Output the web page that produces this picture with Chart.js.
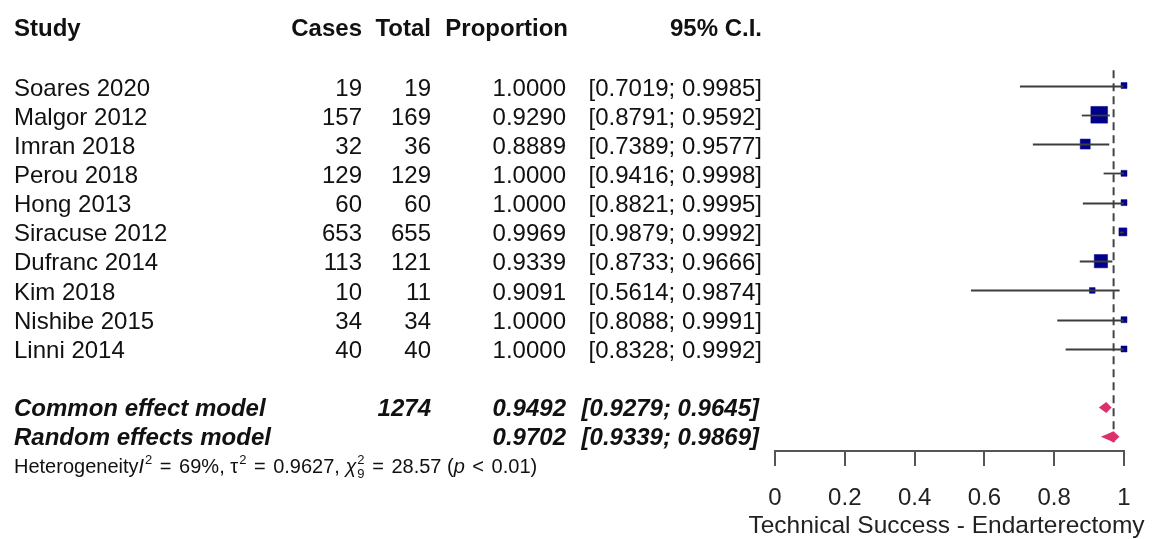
<!DOCTYPE html>
<html>
<head>
<meta charset="utf-8">
<title>Technical Success - Endarterectomy</title>
<script src="https://cdn.jsdelivr.net/npm/chart.js@4.4.1/dist/chart.umd.min.js"></script>
<style>
  html, body { margin: 0; padding: 0; background: #ffffff; }
  canvas { display: block; }
</style>
</head>
<body>
<canvas id="forest" width="1157" height="539"></canvas>
<script>
// ---- study data ----
const studies = ['Soares 2020', 'Malgor 2012', 'Imran 2018', 'Perou 2018', 'Hong 2013',
                 'Siracuse 2012', 'Dufranc 2014', 'Kim 2018', 'Nishibe 2015', 'Linni 2014'];
const cases = [19, 157, 32, 129, 60, 653, 113, 10, 34, 40];
const totals = [19, 169, 36, 129, 60, 655, 121, 11, 34, 40];
const proportions = [1.0000, 0.9290, 0.8889, 1.0000, 1.0000, 0.9969, 0.9339, 0.9091, 1.0000, 1.0000];
const ciLower = [0.7019, 0.8791, 0.7389, 0.9416, 0.8821, 0.9879, 0.8733, 0.5614, 0.8088, 0.8328];
const ciUpper = [0.9985, 0.9592, 0.9577, 0.9998, 0.9995, 0.9992, 0.9666, 0.9874, 0.9991, 0.9992];
const weights = [4.3, 33.6, 12.0, 4.3, 4.3, 7.7, 21.3, 3.9, 4.3, 4.3];   // % weight per study

// ---- pooled estimates ----
const pooledModels = ['Common effect model', 'Random effects model'];
const pooledTotals = [1274, null];
const pooledEstimate = [0.9492, 0.9702];
const pooledLower = [0.9279, 0.9339];
const pooledUpper = [0.9645, 0.9869];

// ---- axis ----
const xTicks = [0, 0.2, 0.4, 0.6, 0.8, 1];
const xTitle = 'Technical Success - Endarterectomy';
const headers = ['Study', 'Cases', 'Total', 'Proportion', '95% C.I.'];

// row indices on the vertical scale
const headerRow = -2;
const pooledRows = [11, 12];
const hetRow = 13;

const FONT = '"Liberation Sans", Arial, Helvetica, sans-serif';
const TEXT = '#111111';
const BOX = '#00008B';
const DIAMOND = '#DC2F6B';
const LINE = '#3c3c3c';

const fmt4 = v => v.toFixed(4);
const fmtCI = (lo, hi) => '[' + fmt4(lo) + '; ' + fmt4(hi) + ']';

// column anchors (right-aligned except the study label)
const col = { study: 14, cases: 362, total: 431, prop: 566, ci: 762 };
// text baseline sits a little below each row centre
const baseOffset = r => 10.5 - 0.2 * r;

function txt(ctx, s, x, y, align, style, size) {
  ctx.font = style + ' ' + (size || 24) + 'px ' + FONT;
  ctx.textAlign = align;
  ctx.textBaseline = 'alphabetic';
  ctx.fillStyle = TEXT;
  ctx.fillText(s, x, y);
}

// study table, pooled rows, heterogeneity line and axis title
const tablePlugin = {
  id: 'forestTable',
  afterDraw(chart) {
    const ctx = chart.ctx;
    const y = chart.scales.y;
    const xs = chart.scales.x;
    ctx.save();
    const hy = y.getPixelForValue(headerRow) + 9.5;
    txt(ctx, headers[0], col.study, hy, 'left', 'bold');
    txt(ctx, headers[1], col.cases, hy, 'right', 'bold');
    txt(ctx, headers[2], col.total, hy, 'right', 'bold');
    txt(ctx, headers[3], col.prop + 2, hy, 'right', 'bold');
    txt(ctx, headers[4], col.ci, hy, 'right', 'bold');

    studies.forEach((s, i) => {
      const ry = y.getPixelForValue(i) + baseOffset(i);
      txt(ctx, s, col.study, ry, 'left', 'normal');
      txt(ctx, String(cases[i]), col.cases, ry, 'right', 'normal');
      txt(ctx, String(totals[i]), col.total, ry, 'right', 'normal');
      txt(ctx, fmt4(proportions[i]), col.prop, ry, 'right', 'normal');
      txt(ctx, fmtCI(ciLower[i], ciUpper[i]), col.ci, ry, 'right', 'normal');
    });

    pooledModels.forEach((m, k) => {
      const ry = y.getPixelForValue(pooledRows[k]) + baseOffset(pooledRows[k]);
      txt(ctx, m, col.study, ry, 'left', 'italic bold');
      if (pooledTotals[k] !== null) txt(ctx, String(pooledTotals[k]), col.total, ry, 'right', 'italic bold');
      txt(ctx, fmt4(pooledEstimate[k]), col.prop, ry, 'right', 'italic bold');
      txt(ctx, fmtCI(pooledLower[k], pooledUpper[k]), col.ci - 3, ry, 'right', 'italic bold');
    });

    // heterogeneity statement with super/subscripts
    const base = y.getPixelForValue(hetRow) + 6.5;
    const main = 20, small = 13;
    let x = col.study;
    ctx.textAlign = 'left';
    ctx.textBaseline = 'alphabetic';
    ctx.fillStyle = TEXT;
    const put = (s, size, style, dy) => {
      ctx.font = style + ' ' + size + 'px ' + FONT;
      ctx.fillText(s, x, base + dy);
      const w = ctx.measureText(s).width;
      x += w;
      return w;
    };
    const op = s => { x += 2; put(s, main, 'normal', 0); x += 2; };
    put('Heterogeneity', main, 'normal', 0);
    put('I', main, 'italic', 0);
    x += 1;
    put('2', small, 'normal', -9);
    op(' = ');
    put('69%, \u03C4', main, 'normal', 0);
    x += 1;
    put('2', small, 'normal', -9);
    op(' = ');
    put('0.9627, ', main, 'normal', 0);
    put('\u03C7', main, 'italic', 0);
    const sx = x + 1;
    x = sx;
    const w1 = put('2', small, 'normal', -9);
    x = sx;
    const w2 = put('9', small, 'normal', 5);
    x = sx + Math.max(w1, w2);
    op(' = ');
    put('28.57 (', main, 'normal', 0);
    put('p', main, 'italic', 0);
    op(' < ');
    put('0.01)', main, 'normal', 0);

    // axis title, centred under the axis
    ctx.fillStyle = '#222222';
    ctx.font = 'normal 24.5px ' + FONT;
    ctx.textAlign = 'center';
    ctx.fillText(xTitle, (xs.left + xs.right) / 2 - 3, 533);
    ctx.restore();
  }
};

// confidence intervals, reference line and pooled diamonds
const marksPlugin = {
  id: 'forestMarks',
  beforeDatasetsDraw(chart) {
    const ctx = chart.ctx;
    const xs = chart.scales.x, ys = chart.scales.y;
    ctx.save();
    // random-effects reference line
    ctx.strokeStyle = '#444444';
    ctx.lineWidth = 2;
    ctx.setLineDash([8, 5]);
    const rx = xs.getPixelForValue(pooledEstimate[1]);
    ctx.beginPath();
    ctx.moveTo(rx, ys.getPixelForValue(-0.52));
    ctx.lineTo(rx, ys.getPixelForValue(12.35));
    ctx.stroke();
    ctx.restore();
  },
  afterDatasetsDraw(chart) {
    const ctx = chart.ctx;
    const xs = chart.scales.x, ys = chart.scales.y;
    ctx.save();
    // study confidence intervals
    ctx.strokeStyle = LINE;
    ctx.lineWidth = 1.8;
    studies.forEach((s, i) => {
      const py = Math.round(ys.getPixelForValue(i)) + 0.5;
      ctx.beginPath();
      ctx.moveTo(xs.getPixelForValue(ciLower[i]), py);
      ctx.lineTo(xs.getPixelForValue(ciUpper[i]), py);
      ctx.stroke();
    });

    // pooled diamonds
    ctx.fillStyle = DIAMOND;
    pooledModels.forEach((m, k) => {
      const py = ys.getPixelForValue(pooledRows[k]);
      const h = 5.5;
      ctx.beginPath();
      ctx.moveTo(xs.getPixelForValue(pooledLower[k]), py);
      ctx.lineTo(xs.getPixelForValue(pooledEstimate[k]), py - h);
      ctx.lineTo(xs.getPixelForValue(pooledUpper[k]), py);
      ctx.lineTo(xs.getPixelForValue(pooledEstimate[k]), py + h);
      ctx.closePath();
      ctx.fill();
    });
    ctx.restore();
  }
};

new Chart(document.getElementById('forest'), {
  type: 'scatter',
  data: {
    datasets: [{
      label: 'Studies',
      data: studies.map((s, i) => ({ x: proportions[i], y: i })),
      pointStyle: 'rect',
      pointRadius: weights.map(w => 2.04 * Math.sqrt(w)),
      pointBackgroundColor: BOX,
      pointBorderColor: BOX,
      pointBorderWidth: 0.5,
      showLine: false,
      clip: false
    }]
  },
  options: {
    responsive: false,
    devicePixelRatio: 1,
    animation: false,
    events: [],
    layout: { padding: { left: 775, right: 33, top: 9, bottom: 0 } },
    plugins: { legend: { display: false }, tooltip: { enabled: false }, title: { display: false } },
    scales: {
      x: {
        type: 'linear',
        position: 'bottom',
        min: 0,
        max: 1,
        afterBuildTicks: s => { s.ticks = xTicks.map(v => ({ value: v })); },
        afterFit: s => { s.height = 88; },
        ticks: {
          color: '#222222',
          font: { family: FONT, size: 24 },
          padding: 18,
          maxRotation: 0,
          autoSkip: false,
          callback: v => String(v)
        },
        grid: { drawOnChartArea: false, drawTicks: true, tickLength: 15, color: '#555555', lineWidth: 2 },
        border: { display: true, color: '#555555', width: 2 },
        title: { display: false }
      },
      y: { type: 'linear', display: false, reverse: true, min: -2.5, max: 12.485 }
    }
  },
  plugins: [marksPlugin, tablePlugin]
});
</script>
</body>
</html>
